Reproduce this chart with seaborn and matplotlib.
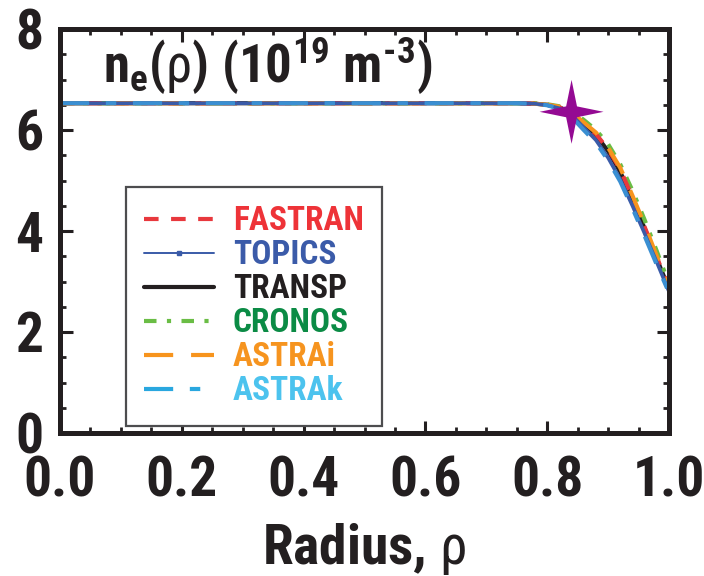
import matplotlib
matplotlib.use("Agg")
import matplotlib.pyplot as plt
import seaborn as sns
import pandas as pd
from matplotlib.lines import Line2D
from matplotlib.path import Path
from matplotlib.ticker import MultipleLocator

# ---------------- data ----------------
rho = [0.0, 0.1, 0.2, 0.3, 0.4, 0.5, 0.6, 0.7, 0.75, 0.78, 0.80, 0.82, 0.84,
       0.86, 0.88, 0.90, 0.92, 0.94, 0.96, 0.98, 1.00]
fastran = [6.53, 6.53, 6.53, 6.53, 6.53, 6.53, 6.53, 6.53, 6.53, 6.52, 6.50, 6.45, 6.33,
           6.12, 5.92, 5.62, 5.22, 4.66, 4.08, 3.48, 2.88]
topics = [6.53, 6.53, 6.53, 6.53, 6.53, 6.53, 6.53, 6.53, 6.53, 6.52, 6.49, 6.43, 6.30,
          6.05, 5.80, 5.45, 5.02, 4.50, 3.95, 3.38, 2.80]
transp = [6.53, 6.53, 6.53, 6.53, 6.53, 6.53, 6.53, 6.53, 6.53, 6.52, 6.50, 6.45, 6.34,
          6.12, 5.90, 5.58, 5.17, 4.62, 4.05, 3.45, 2.85]
cronos = [6.53, 6.53, 6.53, 6.53, 6.53, 6.53, 6.53, 6.53, 6.53, 6.53, 6.51, 6.47, 6.38,
          6.20, 6.00, 5.72, 5.32, 4.80, 4.22, 3.60, 2.95]
astrai = [6.53, 6.53, 6.53, 6.53, 6.53, 6.53, 6.53, 6.53, 6.53, 6.52, 6.50, 6.46, 6.35,
          6.15, 5.95, 5.65, 5.25, 4.70, 4.12, 3.50, 2.90]
astrak = [6.53, 6.53, 6.53, 6.53, 6.53, 6.53, 6.53, 6.53, 6.53, 6.52, 6.49, 6.42, 6.26,
          6.00, 5.75, 5.40, 4.98, 4.45, 3.90, 3.33, 2.78]
codes = ["FASTRAN", "TOPICS", "TRANSP", "CRONOS", "ASTRAi", "ASTRAk"]
star_rho = [0.84]
star_ne = [6.36]
x_ticks = [0.0, 0.2, 0.4, 0.6, 0.8, 1.0]
y_ticks = [0, 2, 4, 6, 8]

series = {"FASTRAN": fastran, "TOPICS": topics, "TRANSP": transp,
          "CRONOS": cronos, "ASTRAi": astrai, "ASTRAk": astrak}
df = pd.concat([pd.DataFrame({"rho": rho, "ne": v, "code": k}) for k, v in series.items()],
               ignore_index=True)

# ---------------- style ----------------
sns.set_theme(style="white")
FONT = ["Roboto Condensed", "PT Sans Narrow", "DejaVu Sans"]
plt.rcParams["font.family"] = FONT
plt.rcParams["font.weight"] = "bold"
plt.rcParams["mathtext.fontset"] = "custom"
plt.rcParams["mathtext.rm"] = "Roboto Condensed:weight=bold"
plt.rcParams["mathtext.bf"] = "Roboto Condensed:weight=bold"
plt.rcParams["mathtext.it"] = "Roboto Condensed:weight=bold"
plt.rcParams["mathtext.sf"] = "Roboto Condensed:weight=normal"
plt.rcParams["mathtext.default"] = "rm"

INK = "#231f20"
line_color = {"FASTRAN": "#e8383d", "TOPICS": "#3a5ba8", "TRANSP": INK,
              "CRONOS": "#6abd45", "ASTRAi": "#f7941d", "ASTRAk": "#3a8fd2"}
text_color = {"FASTRAN": "#ee3338", "TOPICS": "#3b5ba9", "TRANSP": INK,
              "CRONOS": "#0b8b45", "ASTRAi": "#f6941f", "ASTRAk": "#4cc3ee"}
legend_line_color = dict(line_color, ASTRAk="#29a7df")
dashes = {"FASTRAN": (3.5, 3.0), "TOPICS": (1, 0), "TRANSP": (1, 0),
          "CRONOS": (3.0, 2.5, 1.0, 2.5), "ASTRAi": (7.0, 4.3),
          "ASTRAk": (7.0, 4.0, 2.5, 4.0)}
lw = 3.0

fig = plt.figure(figsize=(7.04, 5.76), dpi=100)
ax = fig.add_axes([60 / 704, 1 - 433 / 576, 609 / 704, 404 / 576])

draw_order = ["TRANSP", "CRONOS", "FASTRAN", "ASTRAi", "TOPICS", "ASTRAk"]
for code in draw_order:
    sub = df[df["code"] == code]
    sns.lineplot(data=sub, x="rho", y="ne", ax=ax, color=line_color[code],
                 linewidth=lw if code != "TOPICS" else 2.6, legend=False,
                 estimator=None, sort=False)
    ln = ax.lines[-1]
    if code not in ("TOPICS", "TRANSP"):
        ln.set_dashes(dashes[code])
    ln.set_solid_capstyle("butt")
    ln.set_dash_capstyle("butt")

# four-pointed star marker
a = 0.17
star_path = Path([(0, 1), (a, a), (1, 0), (a, -a), (0, -1), (-a, -a), (-1, 0), (-a, a), (0, 1)],
                 [Path.MOVETO] + [Path.LINETO] * 7 + [Path.CLOSEPOLY])
sns.scatterplot(x=star_rho, y=star_ne, ax=ax, marker=star_path, s=46 ** 2,
                color="#940a93", edgecolor="none", zorder=10, legend=False)

ax.set_xlim(0, 1)
ax.set_ylim(0, 8)
ax.set_xticks(x_ticks)
ax.set_yticks(y_ticks)
ax.set_xticklabels([f"{v:.1f}" for v in x_ticks])
ax.set_yticklabels([f"{v:d}" for v in y_ticks])
ax.xaxis.set_minor_locator(MultipleLocator(0.05))
ax.yaxis.set_minor_locator(MultipleLocator(0.5))
ax.tick_params(which="both", direction="in", top=True, right=True, bottom=True, left=True,
               color=INK)
ax.tick_params(which="major", length=9, width=2.2, labelsize=40, labelcolor=INK)
ax.tick_params(axis="x", which="major", pad=16)
ax.tick_params(axis="y", which="major", pad=12)
ax.tick_params(which="minor", length=4.5, width=2.0)
for sp in ax.spines.values():
    sp.set_linewidth(3.6)
    sp.set_color(INK)
    sp.set_visible(True)

ax.set_xlabel("Radius, $\\mathsf{\\rho}$", fontsize=40, fontweight="bold", color=INK,
              labelpad=10)
ax.set_ylabel("")

ax.text((103 - 60) / 609, (433 - 83) / 404,
        "n$_{e}$($\\mathsf{\\rho}$) (10$^{19}$ m$^{\u2010 3}$)",
        transform=ax.transAxes, fontsize=38, fontweight="bold", color=INK,
        ha="left", va="baseline")

# legend
handles = []
for code in codes:
    if code == "TOPICS":
        h = Line2D([0, 0.2, 0.4, 0.6, 0.8, 1.0, 1.2, 1.4], [0] * 8,
                   color=legend_line_color[code], linewidth=1.4, marker="s",
                   markersize=3.5)
    else:
        h = Line2D([], [], color=legend_line_color[code], linewidth=lw)
        if code != "TRANSP":
            h.set_dashes(dashes[code])
    h.set_dash_capstyle("butt")
    handles.append(h)

leg = ax.legend(handles, codes, loc="upper left",
                bbox_to_anchor=((126 - 60) / 609, (433 - 187) / 404),
                borderaxespad=0, frameon=True, fancybox=False,
                framealpha=1, edgecolor="#4d4d4f", handlelength=2.1,
                handletextpad=0.55, labelspacing=0.06, borderpad=0.55,
                prop={"family": FONT, "weight": "bold", "size": 24})
leg.get_frame().set_linewidth(1.6)
for txt, code in zip(leg.get_texts(), codes):
    txt.set_color(text_color[code])

fig.savefig("out.png", dpi=100)
